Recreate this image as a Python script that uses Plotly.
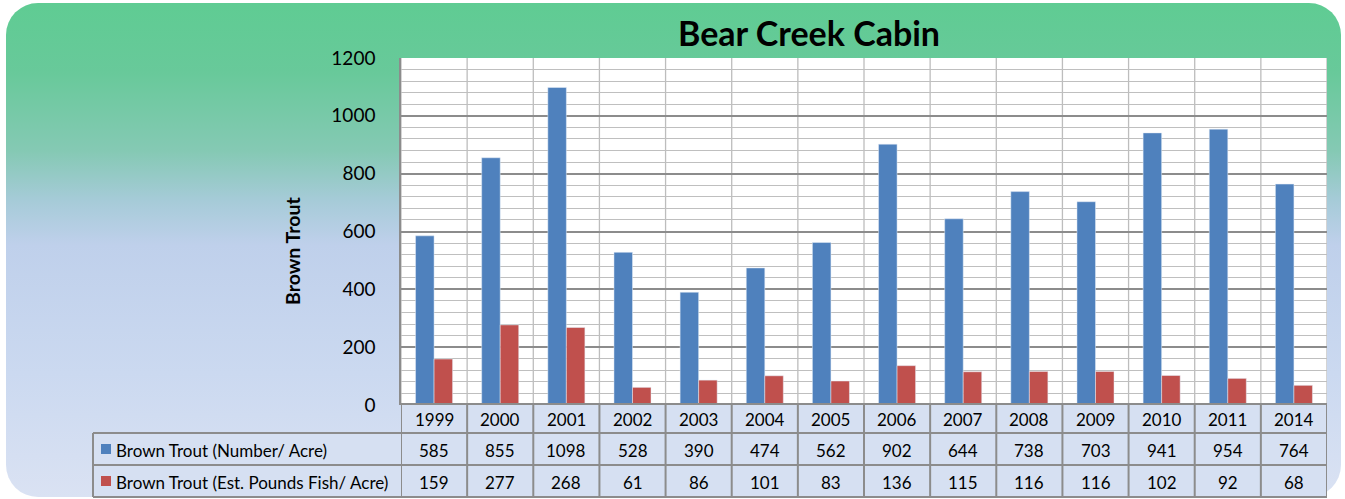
import base64
import plotly.graph_objects as go

years = ['1999', '2000', '2001', '2002', '2003', '2004', '2005',
         '2006', '2007', '2008', '2009', '2010', '2011', '2014']
number_per_acre = [585, 855, 1098, 528, 390, 474, 562, 902, 644, 738, 703, 941, 954, 764]
pounds_per_acre = [159, 277, 268, 61, 86, 101, 83, 136, 115, 116, 116, 102, 92, 68]
series_names = ['Brown Trout (Number/ Acre)', 'Brown Trout (Est. Pounds Fish/ Acre)']
series_colors = ['#4F81BD', '#C0504D']

W, H = 1345, 499
L, R, T, B = 401, 18, 58, 94
PW, PH = W - L - R, H - T - B
FONT = 'Lato, Liberation Sans, sans-serif'


def px2x(px):
    return (px - L) / PW


def px2y(py):
    return (H - B - py) / PH


# rounded gradient panel + white plot area behind everything
svg = f'''<svg xmlns="http://www.w3.org/2000/svg" width="{W}" height="{H}">
<defs><linearGradient id="g" x1="0" y1="0" x2="0" y2="1">
<stop offset="0" stop-color="#5FCC93"/>
<stop offset="0.14" stop-color="#68C99A"/>
<stop offset="0.3" stop-color="#85C9B4"/>
<stop offset="0.4" stop-color="#A6CBD8"/>
<stop offset="0.49" stop-color="#BFD0EB"/>
<stop offset="0.75" stop-color="#CBD9F0"/>
<stop offset="1" stop-color="#DAE2F3"/>
</linearGradient></defs>
<rect x="6" y="3" width="1335" height="494" rx="32" ry="32" fill="url(#g)"/>
<rect x="{L}" y="{T}" width="{PW}" height="{PH}" fill="#FFFFFF"/>
</svg>'''
bg_src = 'data:image/svg+xml;base64,' + base64.b64encode(svg.encode()).decode()

fig = go.Figure()
fig.add_bar(x=years, y=number_per_acre, name=series_names[0], marker_color=series_colors[0])
fig.add_bar(x=years, y=pounds_per_acre, name=series_names[1], marker_color=series_colors[1])

shapes = []
annotations = []

# vertical gridlines at category boundaries
for i in range(len(years) + 1):
    shapes.append(dict(type='line', xref='x', yref='paper', x0=i - 0.5, x1=i - 0.5,
                       y0=0, y1=1, line=dict(color='#BDBDBD', width=1.3), layer='below'))

# data table
row_edges = [404, 433, 465, 497]
grey = '#8C8C8C'
shapes.append(dict(type='rect', xref='paper', yref='paper', x0=px2x(93), x1=1,
                   y0=px2y(row_edges[3]), y1=px2y(row_edges[1]),
                   fillcolor='#D6E0F2', line=dict(width=0)))
shapes.append(dict(type='rect', xref='paper', yref='paper', x0=0, x1=1,
                   y0=px2y(row_edges[1]), y1=px2y(row_edges[0]),
                   fillcolor='#D6E0F2', line=dict(width=0)))
shapes.append(dict(type='line', xref='paper', yref='paper', x0=0, x1=1,
                   y0=px2y(row_edges[0]), y1=px2y(row_edges[0]), line=dict(color=grey, width=2)))
for r in row_edges[1:]:
    shapes.append(dict(type='line', xref='paper', yref='paper', x0=px2x(93), x1=1,
                       y0=px2y(r), y1=px2y(r), line=dict(color=grey, width=2)))
for i in range(len(years) + 1):
    shapes.append(dict(type='line', xref='x', yref='paper', x0=i - 0.5, x1=i - 0.5,
                       y0=px2y(row_edges[3]), y1=px2y(row_edges[0]), line=dict(color=grey, width=2)))
shapes.append(dict(type='line', xref='paper', yref='paper', x0=px2x(93), x1=px2x(93),
                   y0=px2y(row_edges[3]), y1=px2y(row_edges[1]), line=dict(color=grey, width=2)))

rows = [years, number_per_acre, pounds_per_acre]
for r, vals in enumerate(rows):
    yc = px2y((row_edges[r] + row_edges[r + 1]) / 2 + 1)
    for i, v in enumerate(vals):
        annotations.append(dict(x=i, y=yc, xref='x', yref='paper', text=str(v),
                                xanchor='center', yanchor='middle', showarrow=False,
                                font=dict(size=17, color='black', family=FONT)))

# legend keys inside table
for k in range(2):
    yc = (row_edges[k + 1] + row_edges[k + 2]) / 2
    shapes.append(dict(type='rect', xref='paper', yref='paper', x0=px2x(101), x1=px2x(111),
                       y0=px2y(yc + 5), y1=px2y(yc - 5), fillcolor=series_colors[k], line=dict(width=0)))
    annotations.append(dict(x=px2x(114), y=px2y(yc + 1), xref='paper', yref='paper',
                            text=series_names[k], showarrow=False, xanchor='left', yanchor='middle',
                            font=dict(size=17, color='black', family=FONT)))

annotations.append(dict(x=px2x(809), y=px2y(32), xref='paper', yref='paper',
                        text='<b>Bear Creek Cabin</b>', showarrow=False,
                        xanchor='center', yanchor='middle',
                        font=dict(size=34, color='black', family=FONT)))
annotations.append(dict(x=px2x(292), y=px2y(251), xref='paper', yref='paper',
                        text='<b>Brown Trout</b>', showarrow=False, textangle=-90,
                        xanchor='center', yanchor='middle',
                        font=dict(size=19.5, color='black', family=FONT)))

fig.update_layout(
    width=W, height=H,
    margin=dict(l=L, r=R, t=T, b=B),
    paper_bgcolor='white',
    plot_bgcolor='white',
    showlegend=False,
    barmode='group',
    bargap=0.44,
    bargroupgap=0,
    shapes=shapes,
    annotations=annotations,
    images=[dict(source=bg_src, xref='paper', yref='paper', x=px2x(0), y=px2y(0),
                 sizex=W / PW, sizey=H / PH, xanchor='left', yanchor='top',
                 sizing='stretch', layer='below')],
    xaxis=dict(showticklabels=False, showgrid=False, zeroline=False,
               range=[-0.5, len(years) - 0.5]),
    yaxis=dict(range=[0, 1200], dtick=200, showgrid=True, gridcolor='#8C8C8C', gridwidth=1.5,
               minor=dict(dtick=40, showgrid=True, gridcolor='#BFBFBF', gridwidth=1.3),
               showline=True, linecolor='#8C8C8C', linewidth=1.5,
               zeroline=False, ticks='', ticklabelstandoff=20,
               tickfont=dict(size=19, color='black', family=FONT)),
)

fig.write_html('out.html', config={'displayModeBar': False},
               post_script="document.body.style.margin='0';")
